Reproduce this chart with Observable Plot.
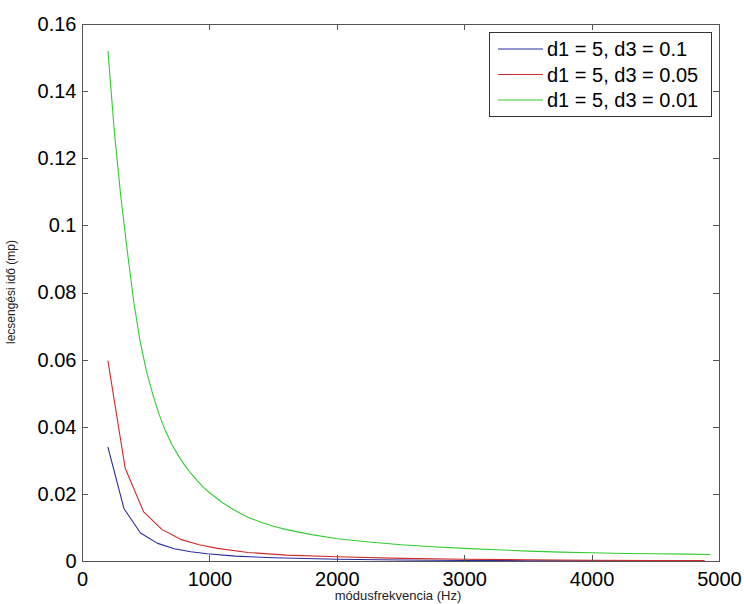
<!DOCTYPE html>
<html><head><meta charset="utf-8">
<script src="https://cdn.jsdelivr.net/npm/d3@7"></script>
<script src="https://cdn.jsdelivr.net/npm/@observablehq/plot@0.6"></script>
<style>body{margin:0;background:#fff} #chart{width:744px;height:604px}</style>
</head><body><div id="chart"></div>
<script>
// Data
const blueF = [200, 325, 455, 590, 720, 850, 980, 1200, 1500, 2000, 2500, 3000, 3500, 4000, 4500, 4850];
const blueT = [0.034, 0.0158, 0.0085, 0.0054, 0.0038, 0.0029, 0.0023, 0.0016, 0.0011, 0.00065, 0.00043, 0.00031, 0.00023, 0.00018, 0.00014, 0.00012];

const redF = [200, 335, 480, 625, 770, 915, 1060, 1300, 1600, 2000, 2500, 3000, 3500, 4000, 4500, 4880];
const redT = [0.0597, 0.0278, 0.0148, 0.0095, 0.0066, 0.0050, 0.0039, 0.0027, 0.0019, 0.0014, 0.00092, 0.00066, 0.0005, 0.00039, 0.00032, 0.00028];

const greenF = [200, 250, 300, 350, 400, 450, 500, 550, 600, 650, 700, 750, 800, 850, 900, 950, 1000, 1100, 1200, 1300, 1400, 1500, 1600, 1800, 2000, 2250, 2500, 2750, 3000, 3250, 3500, 3750, 4000, 4250, 4500, 4750, 4925];
const greenT = [0.152, 0.128, 0.109, 0.093, 0.078, 0.066, 0.057, 0.050, 0.044, 0.039, 0.035, 0.0317, 0.0288, 0.0263, 0.0241, 0.0221, 0.0204, 0.0175, 0.0151, 0.0132, 0.0117, 0.0105, 0.0095, 0.0080, 0.0068, 0.0058, 0.0050, 0.0044, 0.0039, 0.0035, 0.0031, 0.0028, 0.0026, 0.0024, 0.0023, 0.0022, 0.0021];

const seriesNames = ["d1 = 5, d3 = 0.1", "d1 = 5, d3 = 0.05", "d1 = 5, d3 = 0.01"];
const seriesColors = ["#2b2ba0", "#d02a2a", "#33cc33"];

const xTicks = [0, 1000, 2000, 3000, 4000, 5000];
const yTicks = [0, 0.02, 0.04, 0.06, 0.08, 0.1, 0.12, 0.14, 0.16];
const yTickLabels = ["0", "0.02", "0.04", "0.06", "0.08", "0.1", "0.12", "0.14", "0.16"];
const xLabel = "módusfrekvencia (Hz)";
const yLabel = "lecsengési idő (mp)";

const toRows = (F, T) => F.map((f, i) => ({f, t: T[i]}));
const seriesRows = [toRows(blueF, blueT), toRows(redF, redT), toRows(greenF, greenT)];

const font = "'Liberation Sans', Arial, Helvetica, sans-serif";
const frameColor = "#555";

const plot = Plot.plot({
  width: 744, height: 604,
  marginLeft: 82, marginRight: 25, marginTop: 24, marginBottom: 43,
  style: {fontFamily: font, fontSize: "20px", background: "white", color: "black", overflow: "visible"},
  x: {domain: [0, 5000]},
  y: {domain: [0, 0.16]},
  marks: [
    ...seriesRows.map((rows, i) => Plot.line(rows, {x: "f", y: "t", stroke: seriesColors[i], strokeWidth: 1.1})),
    Plot.frame({stroke: frameColor, strokeWidth: 1}),
    Plot.axisX(xTicks, {anchor: "bottom", tickSize: 0, tickPadding: 10, tickFormat: d => String(d), label: null, fontSize: 20}),
    Plot.axisY(yTicks, {anchor: "left", tickSize: 0, tickPadding: 6, tickFormat: (d, i) => yTickLabels[i], label: null, fontSize: 20})
  ]
});
document.getElementById("chart").appendChild(plot);

const svg = d3.select(plot);
const sx = plot.scale("x"), sy = plot.scale("y");
const [x0, x1] = sx.range, [y0, y1] = sy.range;
const L = Math.min(x0, x1), R = Math.max(x0, x1), B = Math.max(y0, y1), T = Math.min(y0, y1);
const tk = 6;
const tg = svg.append("g").attr("stroke", frameColor).attr("stroke-width", 1);
xTicks.forEach(v => {
  const px = Math.round(sx.apply(v)) + 0.5;
  tg.append("line").attr("x1", px).attr("x2", px).attr("y1", B).attr("y2", B - tk);
  tg.append("line").attr("x1", px).attr("x2", px).attr("y1", T).attr("y2", T + tk);
});
yTicks.forEach(v => {
  const py = Math.round(sy.apply(v)) + 0.5;
  tg.append("line").attr("x1", L).attr("x2", L + tk).attr("y1", py).attr("y2", py);
  tg.append("line").attr("x1", R).attr("x2", R - tk).attr("y1", py).attr("y2", py);
});

// axis titles
svg.append("text").attr("x", 398).attr("y", 600).attr("text-anchor", "middle")
  .attr("font-family", font).attr("font-size", 13).attr("fill", "#222").text(xLabel);
svg.append("text").attr("transform", "translate(15,292) rotate(-90)").attr("text-anchor", "middle")
  .attr("font-family", font).attr("font-size", 12).attr("fill", "#222").text(yLabel);

// legend
const lg = svg.append("g");
lg.append("rect").attr("x", 489.5).attr("y", 32.5).attr("width", 222).attr("height", 84)
  .attr("fill", "white").attr("stroke", "#333").attr("stroke-width", 1);
seriesNames.forEach((name, i) => {
  const cy = 49 + i * 25.5;
  lg.append("line").attr("x1", 498).attr("x2", 543).attr("y1", cy).attr("y2", cy)
    .attr("stroke", seriesColors[i]).attr("stroke-width", 1.1);
  lg.append("text").attr("x", 547).attr("y", cy).attr("dy", "0.35em").attr("text-anchor", "start")
    .attr("font-family", font).attr("font-size", 20).attr("fill", "black").text(name);
});
</script></body></html>
